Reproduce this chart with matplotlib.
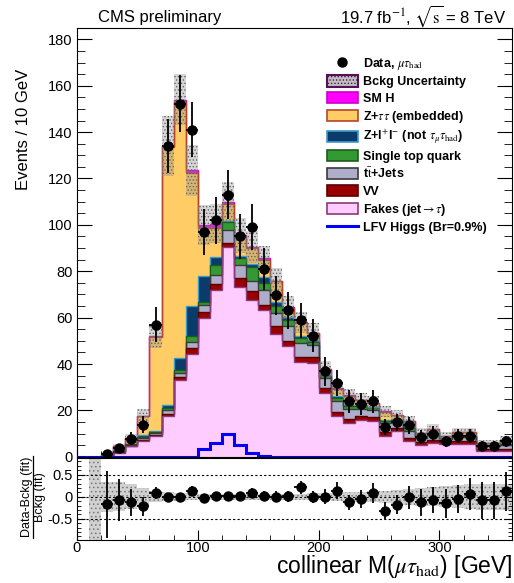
# LFV H -> mu tau_had, collinear mass, CMS preliminary style

import numpy as np
import matplotlib
matplotlib.use('Agg')
import matplotlib.pyplot as plt
from matplotlib.patches import Patch
from matplotlib.lines import Line2D

plt.rcParams['font.family'] = ['Liberation Sans', 'DejaVu Sans']
plt.rcParams['mathtext.fontset'] = 'stix'
plt.rcParams['hatch.linewidth'] = 0.6

## bins of 10 GeV from 0 to 360
edges = np.arange(0, 370, 10)
centers = edges[:-1] + 5

## stacked backgrounds (events per bin)
fakes = [0, 0, 0.3, 1.5, 4.5, 7, 9, 17.7, 33.2, 44.5, 60, 72, 90.3, 73.4, 67.8, 63.4, 53, 47.6,
         41, 40.5, 27.5, 17.5, 14.5, 16, 15.5, 9, 11, 7, 5.2, 6, 5.6, 5.6, 5.6, 2.3, 2.3, 2.3]
vv = [0, 0, 0.1, 0.4, 0.3, 0.4, 0.5, 0.8, 1.2, 2.2, 2.4, 2.7, 2.0, 3.6, 3.5, 2.2, 3.5, 2.5,
      2.2, 2.6, 2.0, 2.0, 1.8, 1.6, 1.5, 1.5, 1.4, 1.3, 1.2, 1.2, 1.1, 1.0, 1.0, 1.0, 1.0, 0.9]
ttjets = [0, 0, 0.1, 0.5, 0.3, 0.6, 0.6, 1.5, 1.7, 2.6, 2.9, 3.8, 5.5, 5.8, 4.7, 6.4, 5.6, 6.5,
          6.0, 5.0, 4.3, 4.5, 4.2, 3.2, 3.0, 4.0, 2.5, 3.0, 1.8, 2.2, 1.1, 1.8, 1.8, 1.3, 1.3, 1.8]
singletop = [0, 0, 0, 0.2, 0.2, 0.6, 0.5, 1.2, 1.4, 2.7, 1.4, 4.2, 3.6, 3.1, 6.0, 3.0, 3.0, 2.5,
             2.0, 1.5, 1.2, 1.5, 1.3, 1.0, 0.9, 1.0, 0.8, 1.0, 0.6, 0.8, 0.4, 0.6, 0.6, 0.4, 0.4, 0.5]
zll = [0, 0, 0.1, 0.6, 0.4, 0.8, 0.6, 1.2, 5.2, 13, 11.1, 3.3, 0.2, 0.8, 1.0, 2.5, 1.5, 1.0,
       1.0, 0.8, 0.6, 0.6, 0.7, 0.6, 0.5, 0.5, 0.5, 0.4, 0.3, 0.3, 0.2, 0.3, 0.3, 0.2, 0.2, 0.2]
ztautau = [0, 0, 0.2, 1.3, 2.3, 8.1, 40.6, 111.1, 110.3, 57.2, 20.7, 12.7, 7.2, 8.0, 6.9, 7.5, 9.0, 4.0,
           5.5, 2.8, 2.2, 3.2, 3.9, 2.1, 1.9, 3.5, 1.7, 2.7, 1.1, 1.5, 0.4, 1.2, 1.2, 0.7, 0.7, 1.6]
smh = [0, 0, 0, 0, 0, 0, 0.2, 0.5, 1.0, 1.3, 1.5, 1.8, 1.2, 0.8, 0.6, 0.5, 0.4, 0.4,
       0.3, 0.3, 0.2, 0.2, 0.1, 0.1, 0.1, 0.1, 0.1, 0.1, 0, 0, 0, 0, 0, 0, 0, 0]
bkg_unc = [0, 0, 0.5, 1.2, 1.8, 3, 5, 13, 11, 11, 8.5, 8.5, 8.5, 7.5, 7, 5.5, 5.5, 5,
           4.5, 4, 3.5, 3, 2.8, 2.7, 2.6, 2.5, 2.3, 2.2, 2, 2, 1.8, 1.8, 1.8, 1.5, 1.5, 1.5]
lfv = [0, 0, 0, 0, 0, 0, 0, 0, 0, 0, 3.3, 5.9, 9.9, 5.2, 1.6, 0.2, 0, 0,
       0, 0, 0, 0, 0, 0, 0, 0, 0, 0, 0, 0, 0, 0, 0, 0, 0, 0]

## data (bins 20-360)
data_x = centers[2:]
data = [1.2, 3.7, 7.8, 13.8, 57, 134, 152.2, 141, 96.8, 102, 113, 95, 99.1, 81, 69.6, 63.1, 58.8,
        52.2, 36.8, 31.8, 23.9, 22.8, 23.9, 12.8, 14.8, 13.6, 8.6, 10, 6.6, 8.8, 8.8, 4.7, 4.7, 6.6]

## ratio (Data-Bckg)/Bckg after fit
ratio = [-0.17, -0.08, -0.13, -0.22, 0.085, 0.0, -0.015, 0.14, -0.03, 0.015, 0.02, 0.01, 0.085,
         0.02, 0.0, 0.01, 0.21, -0.015, 0.0, 0.14, -0.13, -0.05, 0.08, -0.32, -0.18, -0.015,
         -0.13, -0.08, -0.15, -0.05, 0.06, -0.08, -0.08, 0.12]
ratio_band = [0, 2, 0.34, 0.33, 0.28, 0.2, 0.12, 0.1, 0.09, 0.08, 0.07, 0.07, 0.07, 0.07, 0.07,
              0.07, 0.07, 0.07, 0.07, 0.08, 0.08, 0.09, 0.1, 0.11, 0.12, 0.14, 0.16, 0.18, 0.2,
              0.22, 0.24, 0.26, 0.28, 0.3, 0.3, 0.3]

componentes = [
    (fakes, '#ffccff', '#8b3a7a', r'Fakes (jet$\rightarrow\tau$)'),
    (vv, '#990000', '#5a0000', 'VV'),
    (ttjets, '#aeaecb', '#3a3a3a', r't$\bar{\rm t}$+Jets'),
    (singletop, '#339933', '#1c5c1c', 'Single top quark'),
    (zll, '#0b3b6b', '#3a9acb', r'Z+l$^{+}$l$^{-}$ (not $\tau_{\mu}\tau_{\rm had}$)'),
    (ztautau, '#ffcc66', '#b5452a', r'Z+$\tau\tau$ (embedded)'),
    (smh, '#ff00ff', '#cc00cc', 'SM H'),
]

fig = plt.figure(figsize=(5.14, 5.83), dpi=100)
ax = fig.add_axes([0.1498, 0.2165, 0.8463, 0.7359])
axr = fig.add_axes([0.1498, 0.0738, 0.8463, 0.1407])

## stack: fills from the bottom, outlines from the top so lower lines win (como THStack)
base = np.zeros(len(centers))
tops = []
for vals, fc, ec, lab in componentes:
    top = base + np.array(vals)
    ax.stairs(top, edges, baseline=base, fill=True, color=fc, lw=0, zorder=2)
    tops.append((top, ec))
    base = top
total = base
for k, (top, ec) in enumerate(tops[::-1]):
    ax.stairs(top, edges, baseline=None, color=ec, lw=1.0, zorder=3 + 0.01 * k)

unc = np.array(bkg_unc)
ax.bar(centers, 2 * unc, bottom=total - unc, width=10, facecolor=(0.55, 0.55, 0.55, 0.35),
       edgecolor='#666666', hatch='.....', lw=0, zorder=4)

## LFV signal
ax.stairs(lfv, edges, color='#0000ff', lw=2.2, zorder=5)

## data
data = np.array(data)
ax.errorbar(data_x, data, yerr=np.sqrt(data), xerr=5, fmt='o', color='black', ms=6.5,
            elinewidth=1.3, capsize=0, zorder=6)

ax.set_xlim(0, 360)
ax.set_ylim(0, 185)
ax.set_yticks(np.arange(0, 181, 20))
ax.set_yticks(np.arange(0, 186, 5), minor=True)
ax.set_xticks(np.arange(0, 361, 100))
ax.set_xticks(np.arange(0, 361, 20), minor=True)
ax.tick_params(axis='both', which='both', direction='in', right=True, labelsize=10.5)
ax.tick_params(axis='y', which='major', length=11, pad=3)
ax.tick_params(axis='y', which='minor', length=5.5)
ax.tick_params(axis='x', which='major', length=8)
ax.tick_params(axis='x', which='minor', length=4)
ax.tick_params(axis='x', labelbottom=False)

## leyenda
handles = [Line2D([], [], marker='o', color='black', ls='none', ms=6.5)]
labels = [r'Data, $\mu\tau_{\rm had}$']
handles.append(Patch(facecolor=(0.75, 0.75, 0.75), edgecolor='#551155', hatch='.....', lw=1.5))
labels.append('Bckg Uncertainty')
for vals, fc, ec, lab in componentes[::-1]:
    handles.append(Patch(facecolor=fc, edgecolor=ec, lw=1.2))
    labels.append(lab)
handles.append(Line2D([], [], color='#0000ff', lw=2.2))
labels.append('LFV Higgs (Br=0.9%)')
ax.legend(handles, labels, loc='upper left', bbox_to_anchor=(0.575, 0.935), frameon=False,
          prop={'weight': 'bold', 'size': 9}, handlelength=2.45, handleheight=1.0,
          labelspacing=0.3, handletextpad=0.45, borderpad=0, borderaxespad=0)

## ratio
axr.bar(centers, 2 * np.array(ratio_band), bottom=-np.array(ratio_band), width=10,
        facecolor=(0.6, 0.6, 0.6, 0.45), edgecolor='#777777', hatch='....', lw=0, zorder=1)
for yy in (0.5, 0, -0.5):
    axr.axhline(yy, color='black', ls=(0, (2, 2)), lw=0.8, zorder=2)
ratio = np.array(ratio)
axr.errorbar(data_x, ratio, yerr=(1 + ratio) / np.sqrt(data), xerr=5, fmt='o', color='black',
             ms=6.5, elinewidth=1.3, capsize=0, zorder=3)
axr.set_xlim(0, 360)
axr.set_ylim(-0.98, 0.88)
axr.set_yticks([-0.5, 0, 0.5])
axr.set_yticklabels(['-0.5', '0', '0.5'])
axr.set_yticks(np.arange(-0.9, 0.9, 0.1), minor=True)
axr.set_xticks(np.arange(0, 361, 100))
axr.set_xticks(np.arange(0, 361, 20), minor=True)
axr.tick_params(axis='both', which='both', direction='in', right=True, labelsize=10.5)
axr.tick_params(axis='y', which='major', length=6, pad=3)
axr.tick_params(axis='y', which='minor', length=3)
axr.tick_params(axis='x', which='major', length=7, pad=0.5)
axr.tick_params(axis='x', which='minor', length=3.5)

## textos
fig.text(0.045, 0.882, 'Events / 10 GeV', rotation=90, ha='center', va='top', fontsize=12)
fig.text(0.998, 0.0165, r'collinear M($\mu\tau_{\rm had}$) [GeV]', ha='right', va='baseline',
         fontsize=16.5)
## y title of the ratio as a fraction
fig.text(0.0525, 0.147, 'Data-Bckg (fit)', rotation=90, ha='center', va='center', fontsize=9)
fig.text(0.0785, 0.147, 'Bckg (fit)', rotation=90, ha='center', va='center', fontsize=9)
fig.add_artist(Line2D([0.065, 0.065], [0.078, 0.218], color='black', lw=0.9))
fig.text(0.19, 0.962, 'CMS preliminary', ha='left', va='baseline', fontsize=12)
fig.text(0.985, 0.962, r'19.7 fb$^{-1}$, $\sqrt{\rm s}$ = 8 TeV', ha='right', va='baseline',
         fontsize=12)

plt.savefig('out.png', dpi=100)
